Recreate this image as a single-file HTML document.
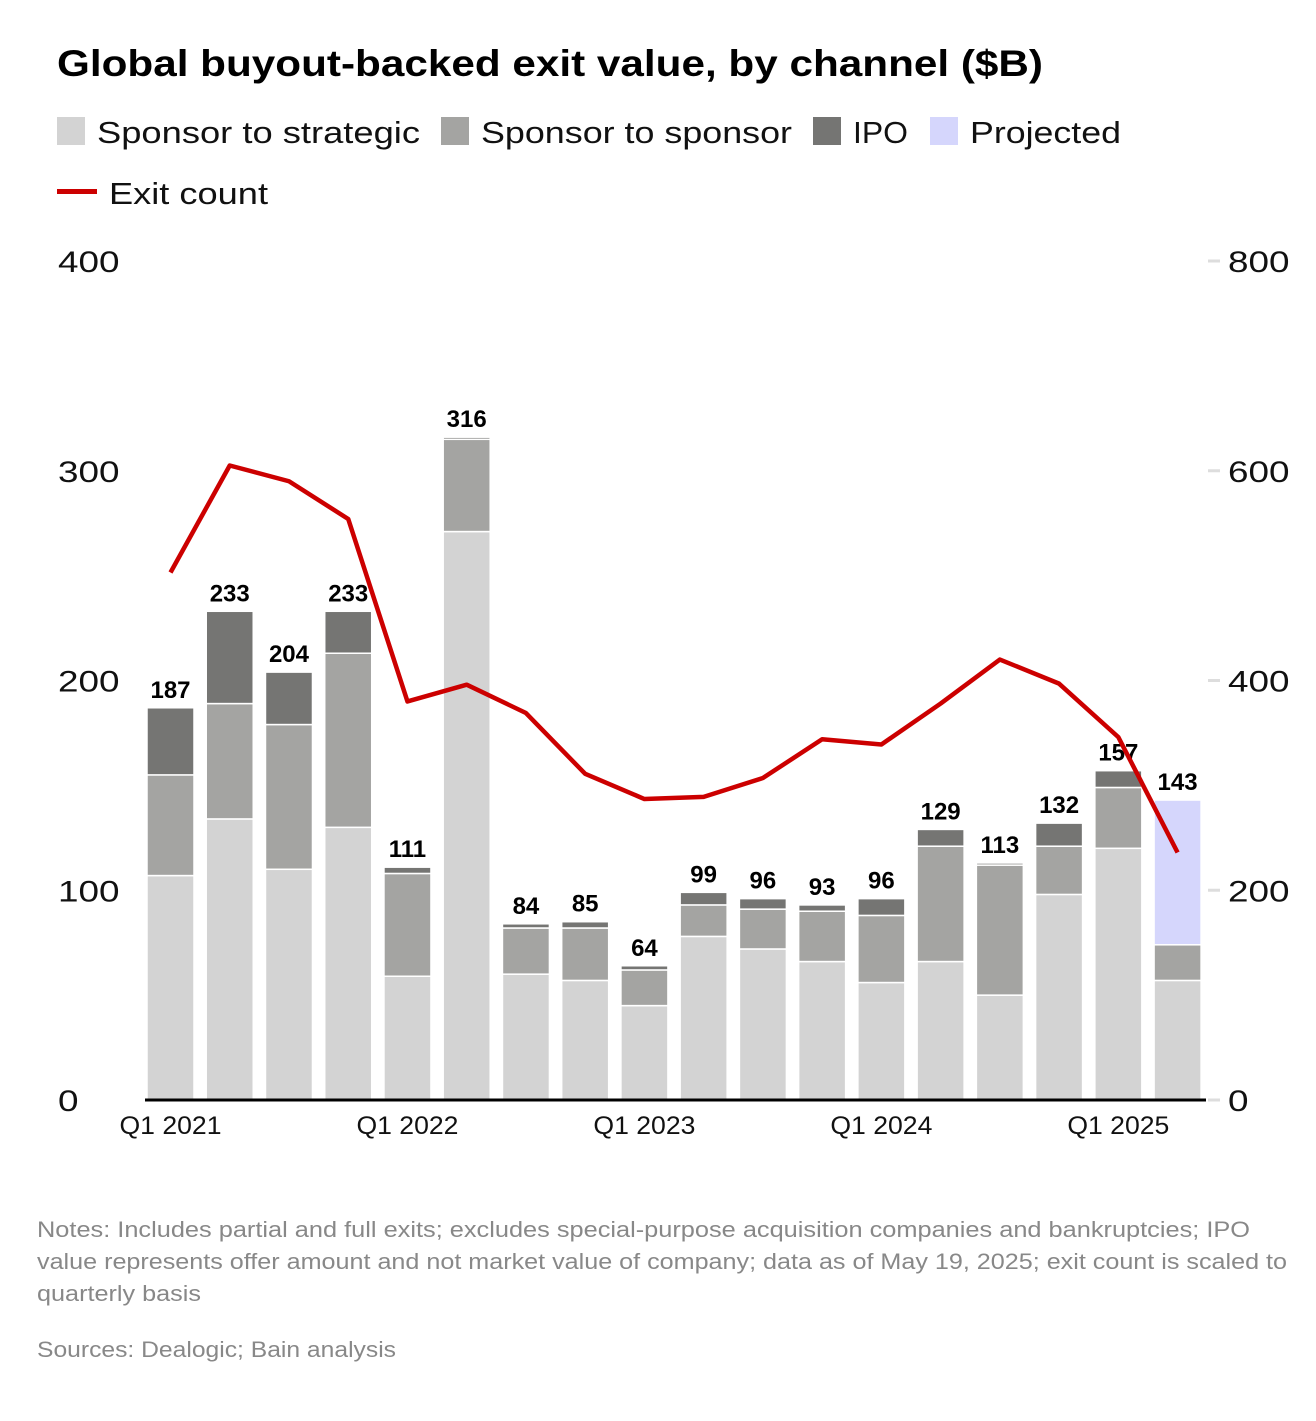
<!DOCTYPE html>
<html><head><meta charset="utf-8">
<style>
body{margin:0;background:#fff;width:1316px;height:1416px;overflow:hidden;font-family:"Liberation Sans",sans-serif;}
svg text{font-family:"Liberation Sans",sans-serif;}
</style></head>
<body>
<svg id="chart" width="1316" height="1416" xmlns="http://www.w3.org/2000/svg">
<text x="57" y="76" font-size="37" font-weight="bold" fill="#000" textLength="986" lengthAdjust="spacingAndGlyphs">Global buyout-backed exit value, by channel ($B)</text>
<g font-size="31" fill="#111">
<rect x="57" y="117" width="28" height="28" fill="#d3d3d3"/>
<text x="97" y="143" textLength="323" lengthAdjust="spacingAndGlyphs">Sponsor to strategic</text>
<rect x="441" y="117" width="28" height="28" fill="#a4a4a2"/>
<text x="481" y="143" textLength="311" lengthAdjust="spacingAndGlyphs">Sponsor to sponsor</text>
<rect x="813" y="117" width="28" height="28" fill="#757573"/>
<text x="853" y="143" textLength="55" lengthAdjust="spacingAndGlyphs">IPO</text>
<rect x="930" y="117" width="28" height="28" fill="#d5d6fc"/>
<text x="970" y="143" textLength="151" lengthAdjust="spacingAndGlyphs">Projected</text>
<rect x="57" y="189" width="40" height="5" fill="#cc0000"/>
<text x="109" y="204" textLength="159" lengthAdjust="spacingAndGlyphs">Exit count</text>
</g>
<g id="plot"></g>
<g font-size="22" fill="#888">
<text x="37" y="1237" textLength="1213" lengthAdjust="spacingAndGlyphs">Notes: Includes partial and full exits; excludes special-purpose acquisition companies and bankruptcies; IPO</text>
<text x="37" y="1269" textLength="1250" lengthAdjust="spacingAndGlyphs">value represents offer amount and not market value of company; data as of May 19, 2025; exit count is scaled to</text>
<text x="37" y="1301" textLength="164" lengthAdjust="spacingAndGlyphs">quarterly basis</text>
<text x="37" y="1357" textLength="359" lengthAdjust="spacingAndGlyphs">Sources: Dealogic; Bain analysis</text>
</g>
</svg>
<script>
const quarters = ["Q1 2021","Q2 2021","Q3 2021","Q4 2021","Q1 2022","Q2 2022","Q3 2022","Q4 2022","Q1 2023","Q2 2023","Q3 2023","Q4 2023","Q1 2024","Q2 2024","Q3 2024","Q4 2024","Q1 2025","Q2 2025"];
const strategic = [107,134,110,130,59,271,60,57,45,78,72,66,56,66,50,98,120,57];
const sponsor   = [48,55,69,83,49,44,22,25,17,15,19,24,32,55,62,23,29,17];
const ipo       = [32,44,25,20,3,1,2,3,2,6,5,3,8,8,1,11,8,0];
const projected = [0,0,0,0,0,0,0,0,0,0,0,0,0,0,0,0,0,69];
const totals    = [187,233,204,233,111,316,84,85,64,99,96,93,96,129,113,132,157,143];
const exitCount = [503,605,590,554,380,396,369,311,287,289,307,344,339,378,420,397,346,236];
const leftTicks = [0,100,200,300,400];
const rightTicks = [0,200,400,600,800];
const xLabels = {0:"Q1 2021",4:"Q1 2022",8:"Q1 2023",12:"Q1 2024",16:"Q1 2025"};

const NS="http://www.w3.org/2000/svg";
const plot=document.getElementById('plot');
const y0=1100, yTop=261;
const yL=v=>y0-(v/400)*(y0-yTop);
const yR=v=>y0-(v/800)*(y0-yTop);
const step=59.24, bw=47, x0=147;
const xB=i=>x0+i*step;
function mk(tag,attrs){const e=document.createElementNS(NS,tag);for(const k in attrs)e.setAttribute(k,attrs[k]);plot.appendChild(e);return e;}

leftTicks.forEach(t=>{
  const w=String(t).length*20.5;
  const e=mk('text',{x:58,y:yL(t)+11,'font-size':30,fill:'#111',textLength:w,lengthAdjust:'spacingAndGlyphs'});
  
  
  e.textContent=t;
});
rightTicks.forEach(t=>{
  const l=mk('line',{x1:1208,x2:1220,y1:yR(t),y2:yR(t),stroke:'#ddd','stroke-width':3});
  
  
  const w=String(t).length*20.5;
  const e=mk('text',{x:1228,y:yR(t)+11,'font-size':30,fill:'#111',textLength:w,lengthAdjust:'spacingAndGlyphs'});
  
  
  e.textContent=t;
});

const segs=[[strategic,'#d3d3d3','strategic'],[sponsor,'#a4a4a2','sponsor'],[ipo,'#757573','ipo'],[projected,'#d5d6fc','projected']];
quarters.forEach((q,i)=>{
  let base=0;
  segs.forEach(([arr,col,nm])=>{
    const v=arr[i]; if(v<=0) return;
    const top=yL(base+v), bot=yL(base);
    const r=mk('rect',{x:xB(i),y:top,width:bw,height:Math.max(bot-top,0.5),fill:col,stroke:'#fff','stroke-width':1.5});
    
    
    base+=v;
  });
  const t=mk('text',{x:xB(i)+bw/2,y:yL(totals[i])-10,'font-size':24,'font-weight':'bold','text-anchor':'middle',fill:'#000'});
  
  
  t.textContent=totals[i];
  if(xLabels[i]){
    const x=mk('text',{x:xB(i)+bw/2,y:1134,'font-size':25,'text-anchor':'middle',fill:'#111',textLength:102,lengthAdjust:'spacingAndGlyphs'});
    
    
    x.textContent=xLabels[i];
  }
});
const base=mk('line',{x1:145,x2:1206,y1:y0,y2:y0,stroke:'#000','stroke-width':3});


const pts=exitCount.map((v,i)=>(xB(i)+bw/2)+','+yR(v)).join(' ');
const pl=mk('polyline',{points:pts,fill:'none',stroke:'#cc0000','stroke-width':4.5,'stroke-linejoin':'round'});


</script>
</body></html>
